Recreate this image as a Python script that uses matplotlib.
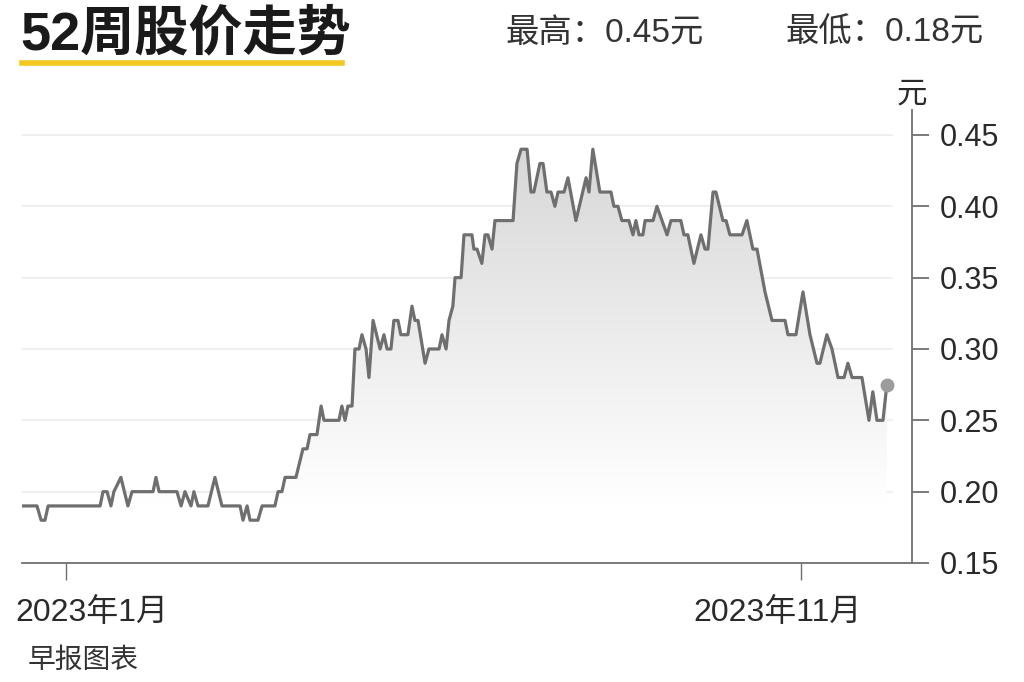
import numpy as np
import pandas as pd
import matplotlib
matplotlib.use('Agg')
from matplotlib import pyplot as plt
import matplotlib.dates as mdates
from matplotlib.patches import Polygon
from matplotlib.colors import LinearSegmentedColormap

plt.rcParams['font.family'] = ['Liberation Sans', 'Noto Sans CJK SC']

# days since 2022-12-14 (first point on chart) and the price at each turning point
start_date = '2022-12-14'
days = [0, 6.2, 7.9, 9.5, 10.8, 32.3, 33.5, 35.2, 36.8, 38.0, 40.9, 43.8, 45.5,
        54.2, 55.4, 56.7, 64.1, 65.8, 67.4, 69.9, 71.1, 72.8, 76.9, 79.8, 82.7,
        90.2, 91.4, 93.1, 94.3, 97.6, 99.3, 104.6, 105.9, 107.5, 108.8, 113.3,
        116.2, 117.9, 119.1, 122.0, 123.7, 124.9, 131.1, 132.3, 133.6, 134.8,
        136.5, 137.7, 139.4, 140.6, 142.3, 143.5, 145.2, 148.1, 149.7, 151.0,
        152.6, 153.8, 155.5, 156.7, 159.6, 161.3, 162.5, 163.8, 166.7, 168.3,
        172.5, 173.7, 175.4, 176.6, 178.2, 179.1, 181.6, 182.8, 186.1, 186.9,
        188.2, 190.2, 191.5, 192.7, 194.4, 195.6, 203.1, 204.7, 206.4, 208.9,
        210.5, 211.7, 214.2, 215.5, 217.1, 218.8, 220.4, 221.7, 224.2, 225.8,
        229.1, 233.3, 234.5, 236.1, 239.0, 243.6, 244.8, 246.5, 248.1, 251.0,
        252.7, 253.9, 255.2, 256.8, 257.7, 261.0, 262.6, 266.8, 268.4, 272.5,
        273.8, 275.4, 277.9, 280.8, 282.5, 283.7, 285.8, 287.0, 289.9, 291.2,
        292.8, 297.8, 299.8, 302.3, 304.0, 307.3, 310.2, 315.6, 316.8, 320.1,
        323.0, 325.9, 328.8, 330.0, 332.9, 335.0, 337.5, 340.0, 341.6, 343.3,
        347.4, 350.3, 351.9, 353.6, 356.1, 357.7]
price = [0.19, 0.19, 0.18, 0.18, 0.19, 0.19, 0.20, 0.20, 0.19, 0.20, 0.21, 0.19, 0.20,
         0.20, 0.21, 0.20, 0.20, 0.19, 0.20, 0.19, 0.20, 0.19, 0.19, 0.21, 0.19,
         0.19, 0.18, 0.19, 0.18, 0.18, 0.19, 0.19, 0.20, 0.20, 0.21, 0.21,
         0.23, 0.23, 0.24, 0.24, 0.26, 0.25, 0.25, 0.26, 0.25, 0.26,
         0.26, 0.30, 0.30, 0.31, 0.30, 0.28, 0.32, 0.30, 0.31, 0.30,
         0.30, 0.32, 0.32, 0.31, 0.31, 0.33, 0.32, 0.32, 0.29, 0.30,
         0.30, 0.31, 0.30, 0.32, 0.33, 0.35, 0.35, 0.38, 0.38, 0.37,
         0.37, 0.36, 0.38, 0.38, 0.37, 0.39, 0.39, 0.43, 0.44, 0.44,
         0.41, 0.41, 0.43, 0.43, 0.41, 0.41, 0.40, 0.41, 0.41, 0.42,
         0.39, 0.42, 0.41, 0.44, 0.41, 0.41, 0.40, 0.40, 0.39, 0.39,
         0.38, 0.39, 0.38, 0.38, 0.39, 0.39, 0.40, 0.38, 0.39, 0.39,
         0.38, 0.38, 0.36, 0.38, 0.37, 0.37, 0.41, 0.41, 0.39, 0.39,
         0.38, 0.38, 0.39, 0.37, 0.37, 0.34, 0.32, 0.32, 0.31, 0.31,
         0.34, 0.31, 0.29, 0.29, 0.31, 0.30, 0.28, 0.28, 0.29, 0.28,
         0.28, 0.25, 0.27, 0.25, 0.25, 0.275]

y_ticks = [0.15, 0.20, 0.25, 0.30, 0.35, 0.40, 0.45]
x_tick_dates = ['2023-01-01', '2023-11-01']
x_tick_labels = ['2023年1月', '2023年11月']

dates = pd.Timestamp(start_date) + pd.to_timedelta(days, unit='D')
xn = mdates.date2num(dates.to_pydatetime())
x0 = mdates.date2num(pd.Timestamp(start_date))
x1 = x0 + 368.1

W, H = 1024, 682
fig = plt.figure(figsize=(W / 100, H / 100), dpi=100)
fig.patch.set_facecolor('white')
ax = fig.add_axes([22 / W, 1 - 563 / H, (912 - 22) / W, (563 - 110) / H])
ax.set_xlim(x0, x1)
ax.set_ylim(0.15, 0.4675)

# grid
for v in y_ticks[1:]:
    ax.axhline(v, xmin=0.0, xmax=(892 - 22) / (912 - 22), color='#ececec', lw=1.2, zorder=0)

# gradient under the line
verts = [(xn[0], 0.15)] + list(zip(xn, price)) + [(xn[-1], 0.15)]
patch = Polygon(verts, closed=True, facecolor='none', edgecolor='none')
ax.add_patch(patch)
yy = np.linspace(0.15, 0.45, 200)
grad = np.clip((yy - 0.19) / 0.26, 0, 1)[:, None]
cmap = LinearSegmentedColormap.from_list('g', ['#ffffff', '#d6d6d6'])
im = ax.imshow(grad, extent=[x0, x1, 0.15, 0.45], origin='lower', aspect='auto',
               cmap=cmap, vmin=0, vmax=1, zorder=1)
im.set_clip_path(patch)

ax.plot(xn, price, color='#6f6f6f', lw=2.3, zorder=3, solid_joinstyle='round')
ax.plot(xn[-1], price[-1], 'o', color='#9c9c9c', ms=9, zorder=4)

# axes styling
for s in ['top', 'left']:
    ax.spines[s].set_visible(False)
ax.spines['right'].set_color('#707070')
ax.spines['bottom'].set_color('#707070')
ax.spines['right'].set_linewidth(1.3)
ax.spines['bottom'].set_linewidth(1.3)
ax.yaxis.tick_right()
ax.set_yticks(y_ticks)
ax.set_yticklabels(['%.2f' % v for v in y_ticks])
ax.tick_params(axis='y', length=12, width=1.3, color='#707070', labelsize=22,
               labelcolor='#2a2a2a', pad=8)
xt = [mdates.date2num(pd.Timestamp(d)) for d in x_tick_dates]
ax.set_xticks(xt)
ax.set_xticklabels([])
ax.tick_params(axis='x', length=12, width=1.0, color='#707070')

# x tick labels placed under the ticks
ax.text(15 / W, 1 - 621 / H, x_tick_labels[0], transform=fig.transFigure, fontsize=23,
        color='#2a2a2a', ha='left', va='baseline')
ax.text(778 / W, 1 - 621 / H, x_tick_labels[1], transform=fig.transFigure, fontsize=23,
        color='#2a2a2a', ha='center', va='baseline')

# unit label
fig.text(912 / W, 1 - 103 / H, '元', fontsize=22, color='#2a2a2a', ha='center', va='baseline')

# title block
fig.text(20 / W, 1 - 49 / H, '52周股价走势', fontsize=39, fontweight='bold', color='#1a1a1a',
         ha='left', va='baseline')
fig.add_artist(plt.Line2D([22 / W, 342 / W], [1 - 63 / H, 1 - 63 / H], color='#f2c81e', lw=4))
fig.text(505 / W, 1 - 42 / H, '最高：0.45元', fontsize=24, color='#333333', ha='left', va='baseline')
fig.text(785 / W, 1 - 42 / H, '最低：0.18元', fontsize=24, color='#333333', ha='left', va='baseline')

# source
fig.text(28 / W, 1 - 668 / H, '早报图表', fontsize=20, color='#333333', ha='left', va='baseline')

fig.savefig('out.png', dpi=100, facecolor='white')
